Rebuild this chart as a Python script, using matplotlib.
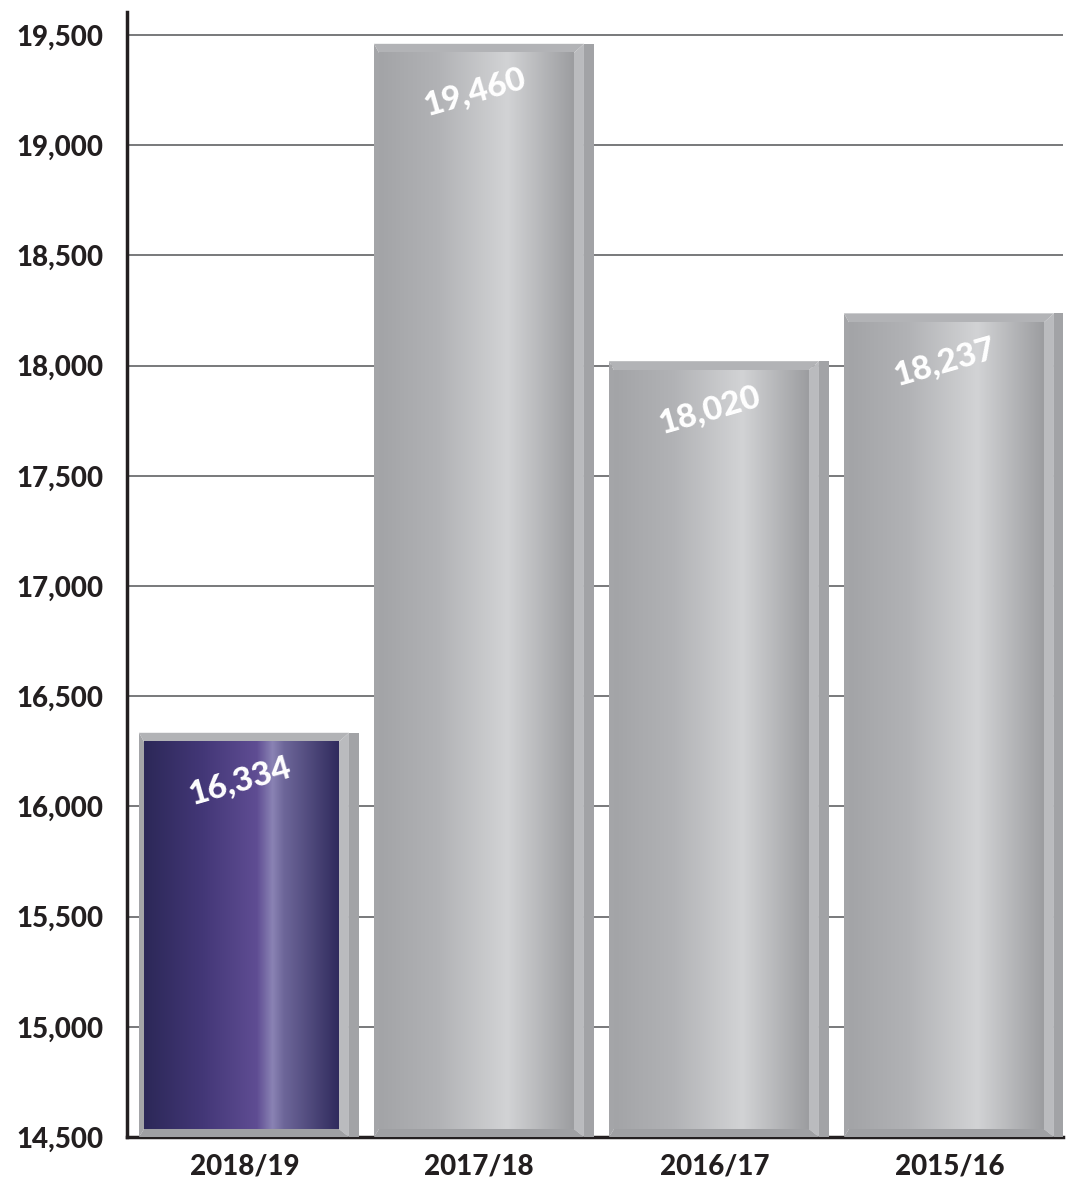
import numpy as np
import matplotlib.pyplot as plt
from matplotlib.colors import LinearSegmentedColormap
from matplotlib.patches import Polygon, Rectangle

plt.rcParams['font.family'] = ['Lato', 'DejaVu Sans']

years = ["2018/19", "2017/18", "2016/17", "2015/16"]
values = [16334, 19460, 18020, 18237]
highlight = [True, False, False, False]
y_ticks = list(range(14500, 20000, 500))

purple = LinearSegmentedColormap.from_list("purple", [
  (0.0, "#2c2858"), (0.3, "#433777"), (0.58, "#5f4d93"),
  (0.66, "#8a83b4"), (0.72, "#6d6699"), (1.0, "#302b5d")])
gray = LinearSegmentedColormap.from_list("gray", [
  (0.0, "#a3a4a7"), (0.3, "#b1b2b5"), (0.6, "#cdced0"),
  (0.66, "#d2d3d5"), (1.0, "#9c9da0")])

fig = plt.figure(figsize=(10.71, 11.85), dpi=100)
ax = fig.add_axes([127 / 1071, 48 / 1185, 936 / 1071, 1125 / 1185])

ymin = 14500
ymax = ymin + 1125 / 110.2 * 500
dx = 1 / 235          # one pixel in x data units
dy = 500 / 110.2      # one pixel in y data units
half = 0.468
grad = np.linspace(0, 1, 256)[np.newaxis, :]

for i, (v, hl) in enumerate(zip(values, highlight)):
  ox0, ox3 = i - half, i + half
  ox2 = ox3 - 10 * dx
  ix0, ix1 = ox0 + 5 * dx, ox2 - 10 * dx
  oy0, oy1 = ymin, v
  iy0, iy1 = ymin + 8 * dy, v - 9 * dy

  ax.add_patch(Rectangle((ox2, oy0), ox3 - ox2, oy1 - oy0, color="#a2a3a6", zorder=3, lw=0))
  ax.add_patch(Polygon([(ox0, oy0), (ox0, oy1), (ix0, iy1), (ix0, iy0)], color="#a4a5a8", zorder=3, lw=0))
  ax.add_patch(Polygon([(ox0, oy1), (ox2, oy1), (ix1, iy1), (ix0, iy1)], color="#b2b3b6", zorder=3, lw=0))
  ax.add_patch(Polygon([(ix1, iy1), (ox2, oy1), (ox2, oy0), (ix1, iy0)], color="#babbbe", zorder=3, lw=0))
  ax.add_patch(Polygon([(ox0, oy0), (ix0, iy0), (ix1, iy0), (ox2, oy0)], color="#9fa0a3", zorder=3, lw=0))
  ax.imshow(grad, cmap=purple if hl else gray, extent=[ix0, ix1, iy0, iy1],
            aspect='auto', zorder=4, interpolation='bilinear')

  ax.text(i - 0.04, v - 220, f"{v:,}", color="white", fontsize=24, fontweight="black",
          rotation=16, ha="center", va="center", zorder=5)

ax.set_xlim(-half - 12 * dx, -half - 12 * dx + 936 / 235)
ax.set_ylim(ymin, ymax)

ax.set_yticks(y_ticks)
ax.set_yticklabels([f"{t:,}" for t in y_ticks], fontsize=20, fontweight="black", color="#231f20")
ax.set_xticks(np.arange(len(years)) - 0.02)
ax.set_xticklabels(years, fontsize=20, fontweight="black", color="#231f20")
ax.tick_params(axis="y", length=0, pad=17)
ax.tick_params(axis="x", length=0, pad=12)

ax.yaxis.grid(True, color="#6d6e71", lw=1.3)
ax.set_axisbelow(True)
for s in ["top", "right"]:
  ax.spines[s].set_visible(False)
ax.spines["left"].set_linewidth(2.5)
ax.spines["bottom"].set_linewidth(2.5)
ax.spines["left"].set_color("#231f20")
ax.spines["bottom"].set_color("#231f20")

fig.savefig("out.png", dpi=100)
